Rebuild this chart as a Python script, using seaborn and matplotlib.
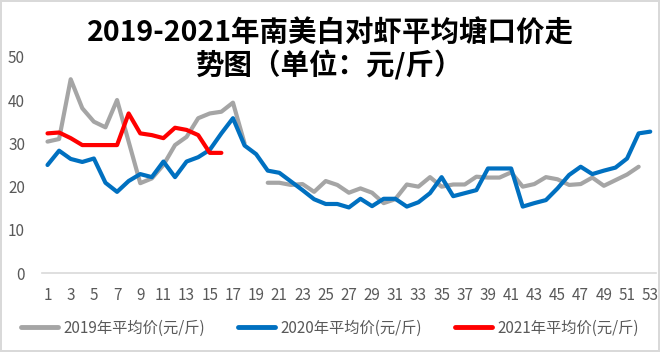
import numpy as np
import pandas as pd
import matplotlib
matplotlib.use("Agg")
import matplotlib.pyplot as plt
import seaborn as sns

# weekly average pond price, yuan/jin
weeks = list(range(1, 54))
p2019 = [30.4, 31.0, 44.8, 38.1, 35.0, 33.7, 40.0, 30.4, 20.8, 21.9,
         25.0, 29.6, 31.5, 35.8, 36.9, 37.3, 39.4, 30.0, np.nan, 20.9,
         20.9, 20.4, 20.6, 18.8, 21.3, 20.4, 18.6, 19.6, 18.6, 16.2,
         17.1, 20.5, 20.0, 22.2, 20.0, 20.5, 20.5, 22.3, 22.1, 22.1,
         23.3, 20.0, 20.6, 22.2, 21.7, 20.4, 20.6, 22.1, 20.2, 21.5,
         22.8, 24.6, np.nan]
p2020 = [25.0, 28.3, 26.4, 25.7, 26.5, 20.9, 18.8, 21.3, 22.9, 22.2,
         25.8, 22.2, 25.8, 26.8, 28.5, 32.3, 35.8, 29.5, 27.5, 23.7,
         23.2, 21.2, 19.2, 17.1, 16.0, 16.0, 15.2, 17.2, 15.5, 17.2,
         17.2, 15.4, 16.4, 18.5, 22.2, 17.8, 18.5, 19.2, 24.2, 24.2,
         24.2, 15.4, 16.2, 16.9, 19.6, 22.7, 24.6, 22.9, 23.7, 24.4,
         26.5, 32.3, 32.7]
p2021 = [32.3, 32.5, 31.2, 29.6, 29.6, 29.6, 29.6, 36.9, 32.3, 31.9,
         31.2, 33.6, 33.1, 31.9, 27.8, 27.8] + [np.nan] * 37
labels = ["2019年平均价(元/斤)", "2020年平均价(元/斤)", "2021年平均价(元/斤)"]
colors = ["#A5A5A5", "#0070C0", "#FF0000"]

rows = []
for lab, vals in zip(labels, [p2019, p2020, p2021]):
    seg = 0
    for w, v in zip(weeks, vals):
        if np.isnan(v):
            seg += 1
            continue
        rows.append({"week": w, "price": v, "series": lab, "seg": f"{lab}-{seg}"})
df = pd.DataFrame(rows)

sns.set_style("white")
plt.rcParams["font.family"] = ["Noto Sans CJK SC", "DejaVu Sans"]

fig = plt.figure(figsize=(6.6, 3.52), dpi=100, edgecolor="#D9D9D9", linewidth=1.5)
ax = fig.add_axes([0.0632, 0.2236, 0.9308, 0.6153])

sns.lineplot(data=df, x="week", y="price", hue="series", units="seg",
             estimator=None, palette=dict(zip(labels, colors)),
             hue_order=labels, linewidth=3, ax=ax, legend=False)

ax.set_xlim(0.5, 53.5)
ax.set_ylim(0, 50)
ax.set_xticks(weeks[::2])
ax.set_xticklabels([str(w) for w in weeks[::2]])
ax.set_yticks(range(0, 51, 10))
ax.tick_params(axis="both", length=0, labelsize=11, labelcolor="#595959")
ax.tick_params(axis="y", pad=12)
ax.tick_params(axis="x", pad=10)
ax.set_xlabel("")
ax.set_ylabel("")
for s in ["top", "right", "left"]:
    ax.spines[s].set_visible(False)
ax.spines["bottom"].set_color("#D9D9D9")
ax.spines["bottom"].set_linewidth(1.2)

handles = [plt.Line2D([], [], color=c, lw=3.5) for c in colors]
fig.legend(handles, labels, loc="center", bbox_to_anchor=(0.5, 0.068), ncol=3,
           frameon=False, fontsize=11, labelcolor="#595959", handlelength=2.4,
           handletextpad=0.35, columnspacing=2.2)

fig.text(0.5, 0.858, "2019-2021年南美白对虾平均塘口价走\n势图（单位：元/斤）",
         ha="center", va="center", multialignment="center", fontsize=20.5,
         fontweight="bold", color="black", linespacing=1.15)

fig.savefig("out.png", dpi=100)
